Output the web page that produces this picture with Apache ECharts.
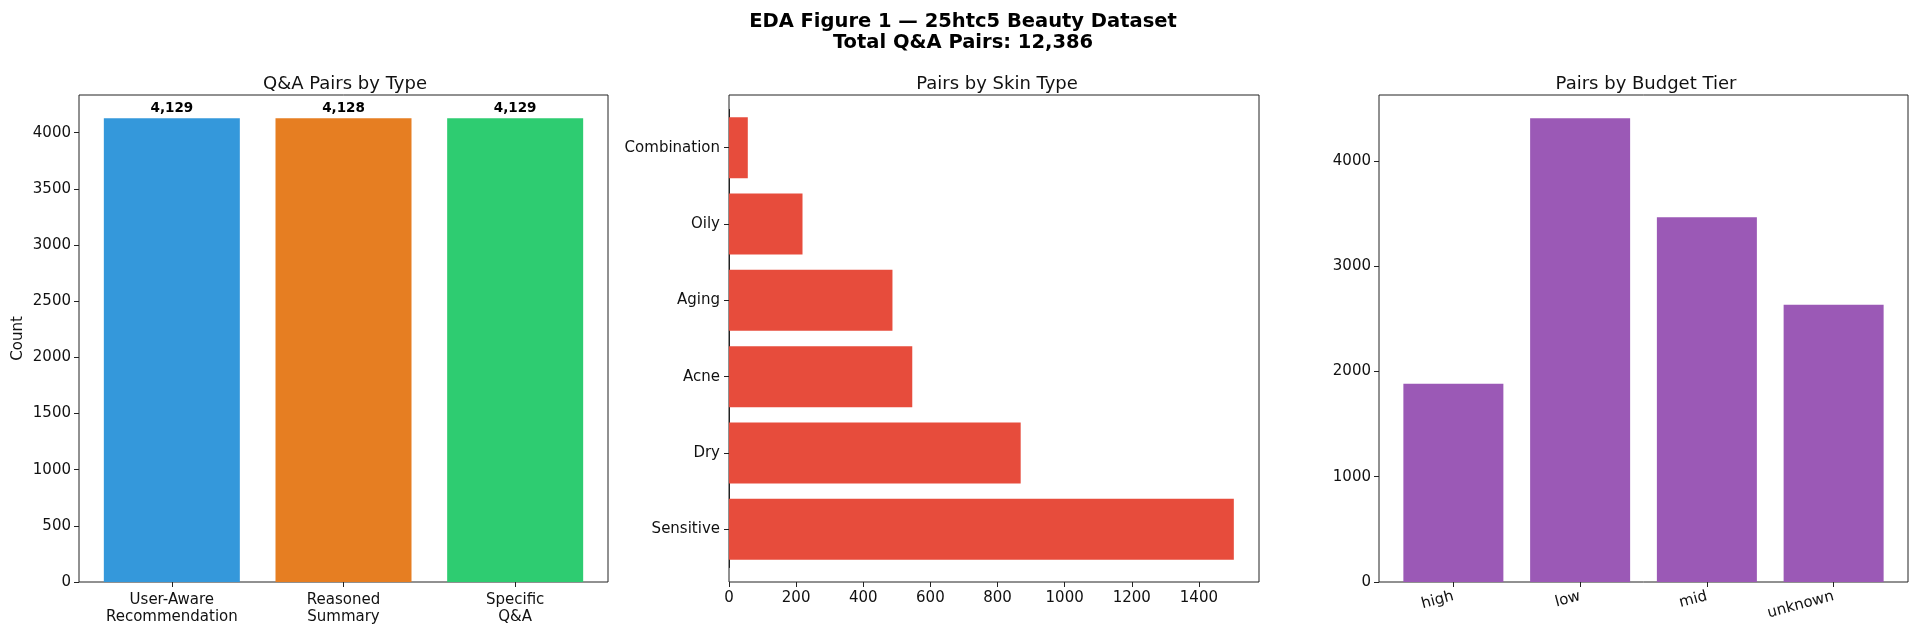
<!DOCTYPE html>
<html lang="en">
<head>
    <meta charset="UTF-8"/>
    <script type="text/javascript" src="https://cdn.jsdelivr.net/npm/echarts@6/dist/echarts.min.js"></script>
    <title>EDA Figure 1</title>
    <style>
        html, body { margin: 0; padding: 0; background: #fff; }
        #main { width: 1920px; height: 635px; }
    </style>
</head>
<body>
<div id="main"></div>
<script type="text/javascript">
    // panel 1: Q&A pairs by type
    var typeNames = ['User-Aware\nRecommendation', 'Reasoned\nSummary', 'Specific\nQ&A']
    var typeCounts = [4129, 4128, 4129]
    var typeColors = ['#3498db', '#e67e22', '#2ecc71']
    var typeTicks = [0, 500, 1000, 1500, 2000, 2500, 3000, 3500, 4000]

    // panel 2: skin type (bottom to top)
    var skinNames = ['Sensitive', 'Dry', 'Acne', 'Aging', 'Oily', 'Combination']
    var skinCounts = [1504, 869, 546, 487, 219, 56]
    var skinTicks = [0, 200, 400, 600, 800, 1000, 1200, 1400]

    // panel 3: budget tier
    var budgetNames = ['high', 'low', 'mid', 'unknown']
    var budgetCounts = [1882, 4406, 3465, 2633]
    var budgetTicks = [0, 1000, 2000, 3000, 4000]

    var font = 'DejaVu Sans'
    var ink = '#222'

    var total = typeCounts.reduce(function (a, b) { return a + b }, 0)

    function frame(left, right) {
        return {left: left, right: right, top: 95, bottom: 53, show: true,
            borderColor: ink, borderWidth: 1, backgroundColor: 'transparent'}
    }

    function plain(v) { return String(v) }

    var tickStyle = {show: true, length: 5, lineStyle: {color: ink}}
    var labelStyle = {color: '#111', fontFamily: font, fontSize: 15}

    var myChart = echarts.init(document.getElementById('main'))

    var option = {
        backgroundColor: '#fff',
        animation: false,
        title: [
            {text: 'EDA Figure 1 \u2014 25htc5 Beauty Dataset\nTotal Q&A Pairs: ' + total.toLocaleString('en-US'),
                left: 958, top: 6, textAlign: 'center',
                textStyle: {fontFamily: font, fontSize: 19.5, fontWeight: 'bold', color: '#000', lineHeight: 21}},
            {text: 'Q&A Pairs by Type', left: 340, top: 70, textAlign: 'center',
                textStyle: {fontFamily: font, fontSize: 18, fontWeight: 'normal', color: '#111'}},
            {text: 'Pairs by Skin Type', left: 992, top: 70, textAlign: 'center',
                textStyle: {fontFamily: font, fontSize: 18, fontWeight: 'normal', color: '#111'}},
            {text: 'Pairs by Budget Tier', left: 1641, top: 70, textAlign: 'center',
                textStyle: {fontFamily: font, fontSize: 18, fontWeight: 'normal', color: '#111'}}
        ],
        grid: [
            // data grids (inset so category bands match matplotlib margins)
            {left: 86, right: 1319, top: 95, bottom: 53},
            {left: 729, right: 661, top: 109.5, bottom: 67.5},
            {left: 1390, right: 23, top: 95, bottom: 53},
            // frames
            frame(79, 1312),
            frame(729, 661),
            frame(1379, 12)
        ],
        xAxis: [
            {type: 'category', gridIndex: 0, data: typeNames,
                axisLine: {show: false}, axisTick: Object.assign({alignWithLabel: true}, tickStyle),
                axisLabel: Object.assign({margin: 10, lineHeight: 17}, labelStyle)},
            {type: 'value', gridIndex: 1, min: 0, max: 1579, offset: 14.5,
                splitLine: {show: false}, axisLine: {show: false},
                axisTick: Object.assign({customValues: skinTicks}, tickStyle),
                axisLabel: Object.assign({customValues: skinTicks, margin: 9, formatter: plain}, labelStyle)},
            {type: 'category', gridIndex: 2, data: budgetNames,
                axisLine: {show: false}, axisTick: Object.assign({alignWithLabel: true}, tickStyle),
                axisLabel: Object.assign({rotate: 15, margin: 14}, labelStyle)}
        ],
        yAxis: [
            {type: 'value', gridIndex: 0, min: 0, max: 4335, offset: 7,
                name: 'Count', nameLocation: 'middle', nameGap: 53,
                nameTextStyle: {fontFamily: font, fontSize: 15, color: '#111'},
                splitLine: {show: false}, axisLine: {show: false},
                axisTick: Object.assign({customValues: typeTicks}, tickStyle),
                axisLabel: Object.assign({customValues: typeTicks, margin: 8, formatter: plain}, labelStyle)},
            {type: 'category', gridIndex: 1, data: skinNames,
                axisLine: {show: true, lineStyle: {color: ink}},
                axisTick: Object.assign({alignWithLabel: true}, tickStyle),
                axisLabel: Object.assign({margin: 9}, labelStyle)},
            {type: 'value', gridIndex: 2, min: 0, max: 4626, offset: 11,
                splitLine: {show: false}, axisLine: {show: false},
                axisTick: Object.assign({customValues: budgetTicks}, tickStyle),
                axisLabel: Object.assign({customValues: budgetTicks, margin: 8, formatter: plain}, labelStyle)}
        ],
        series: [
            {type: 'bar', xAxisIndex: 0, yAxisIndex: 0, barWidth: 136,
                data: typeCounts.map(function (v, i) {
                    return {value: v, itemStyle: {color: typeColors[i]}}
                }),
                label: {show: true, position: 'top', distance: 3, color: '#000',
                    fontFamily: font, fontSize: 13.5, fontWeight: 'bold',
                    formatter: function (p) { return p.value.toLocaleString('en-US') }}},
            {type: 'bar', xAxisIndex: 1, yAxisIndex: 1, barWidth: 61,
                data: skinCounts, itemStyle: {color: '#e74c3c'}},
            {type: 'bar', xAxisIndex: 2, yAxisIndex: 2, barWidth: 100,
                data: budgetCounts, itemStyle: {color: '#9b59b6'}}
        ]
    }

    myChart.setOption(option)
</script>
</body>
</html>
